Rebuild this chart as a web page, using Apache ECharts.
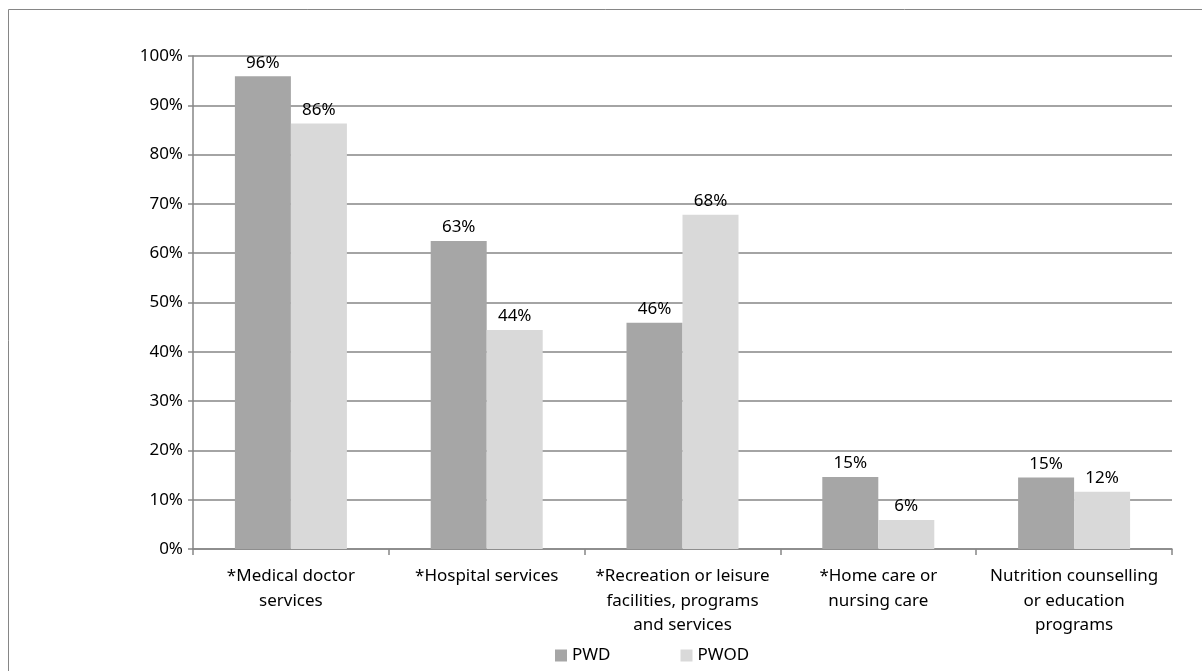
<!DOCTYPE html>
<html>
<head>
<meta charset="utf-8">
<script src="https://cdn.jsdelivr.net/npm/echarts@6/dist/echarts.min.js"></script>
<style>
  html, body { margin: 0; padding: 0; background: #fff; }
  #main { width: 1202px; height: 671px; }
</style>
</head>
<body>
<div id="main"></div>
<script>
const categories = [
  '*Medical doctor\nservices',
  '*Hospital services',
  '*Recreation or leisure\nfacilities, programs\nand services',
  '*Home care or\nnursing care',
  'Nutrition counselling\nor education\nprograms'
];
const pwd = [95.9, 62.5, 45.9, 14.6, 14.5];
const pwod = [86.3, 44.4, 67.8, 5.9, 11.6];

const font = 'Noto Sans';
const fsize = 17;
const myChart = echarts.init(document.getElementById('main'));

const labelOpt = {
  show: true,
  position: 'top',
  distance: 5,
  color: '#000',
  fontFamily: font,
  fontSize: fsize,
  formatter: p => Math.round(p.value) + '%'
};

const option = {
  animation: false,
  backgroundColor: '#fff',
  graphic: [{
    type: 'rect',
    shape: { x: 8.5, y: 9.5, width: 1400, height: 900 },
    style: { fill: 'none', stroke: '#868686', lineWidth: 1 },
    silent: true
  }],
  grid: { left: 193, right: 30, top: 56, bottom: 122 },
  legend: {
    bottom: 2,
    left: 550,
    itemWidth: 12,
    itemHeight: 12,
    itemGap: 70,
    icon: 'rect',
    textStyle: { color: '#000', fontFamily: font, fontSize: fsize },
    data: ['PWD', 'PWOD']
  },
  xAxis: {
    type: 'category',
    data: categories,
    axisLine: { lineStyle: { color: '#868686', width: 1.5 } },
    axisTick: { show: true, length: 6, lineStyle: { color: '#868686', width: 1.5 } },
    axisLabel: {
      color: '#000',
      fontFamily: font,
      fontSize: fsize,
      lineHeight: 24.5,
      margin: 15,
      interval: 0
    }
  },
  yAxis: {
    type: 'value',
    min: 0,
    max: 100,
    interval: 10,
    axisLine: { show: true, lineStyle: { color: '#868686', width: 1.5 } },
    axisTick: { show: true, length: 5, lineStyle: { color: '#868686', width: 1.5 } },
    splitLine: { lineStyle: { color: '#868686', width: 1.5 } },
    axisLabel: {
      color: '#000',
      fontFamily: font,
      fontSize: fsize,
      margin: 10,
      formatter: '{value}%'
    }
  },
  series: [
    {
      name: 'PWD', type: 'bar', data: pwd,
      barWidth: 56, barGap: '0%',
      itemStyle: { color: '#a6a6a6' },
      label: labelOpt
    },
    {
      name: 'PWOD', type: 'bar', data: pwod,
      barWidth: 56, barGap: '0%',
      itemStyle: { color: '#d9d9d9' },
      label: labelOpt
    }
  ]
};

myChart.setOption(option);
</script>
</body>
</html>
